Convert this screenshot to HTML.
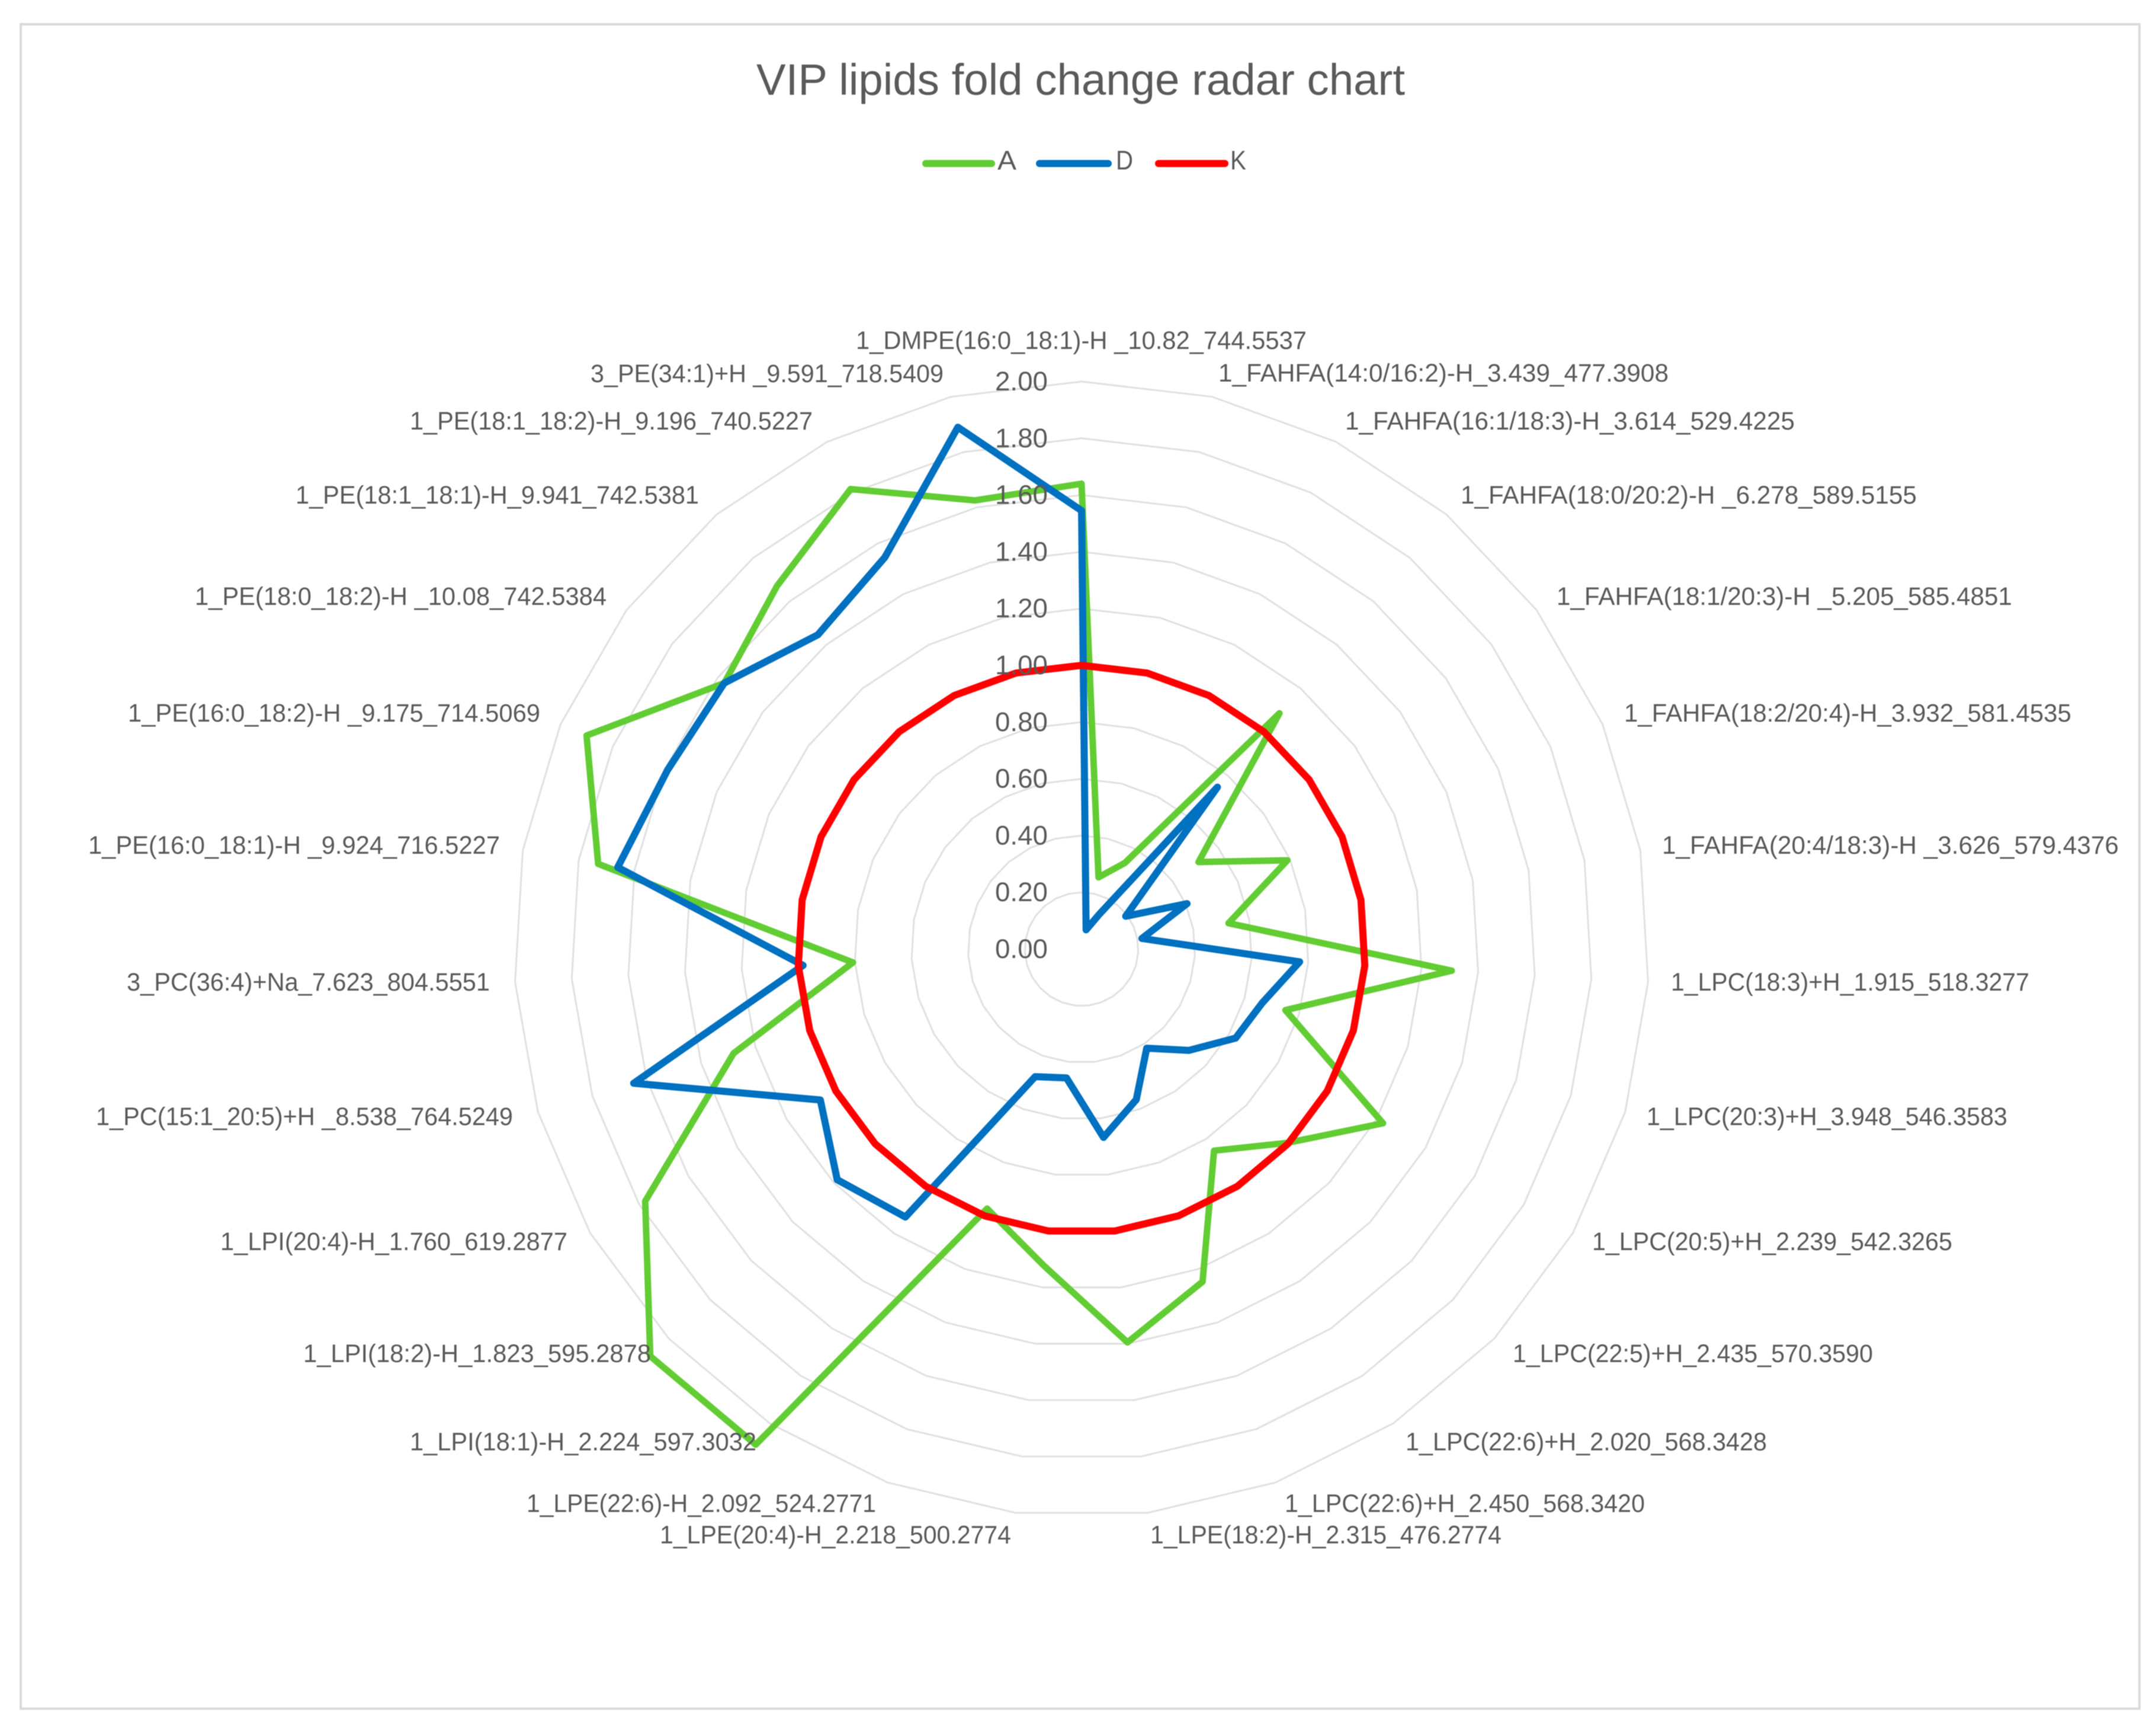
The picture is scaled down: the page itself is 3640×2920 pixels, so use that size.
<!DOCTYPE html>
<html lang="en">
<head>
<meta charset="utf-8">
<title>VIP lipids fold change radar chart</title>
<style>
html,body{margin:0;padding:0;background:#fff;}
body{width:3640px;height:2920px;overflow:hidden;}
svg{display:block;filter:blur(0.9px);}
text{font-family:"Liberation Sans",Arial,sans-serif;fill:#595959;}
</style>
</head>
<body>
<svg id="chart" xmlns="http://www.w3.org/2000/svg" width="3640" height="2920" viewBox="0 0 3640 2920">
  <rect x="0" y="0" width="3640" height="2920" fill="#ffffff"/>
  <rect x="35" y="41" width="3577" height="2843" fill="#ffffff" stroke="#d9d9d9" stroke-width="4"/>
  <text x="1277" y="160" font-size="74" textLength="1095" lengthAdjust="spacingAndGlyphs">VIP lipids fold change radar chart</text>
  <g>
    <line x1="1563" y1="276" x2="1674" y2="276" stroke="#62cc33" stroke-width="12" stroke-linecap="round"/>
    <text x="1684" y="286" font-size="45" textLength="32" lengthAdjust="spacingAndGlyphs">A</text>
    <line x1="1755" y1="276" x2="1871" y2="276" stroke="#0070c0" stroke-width="12" stroke-linecap="round"/>
    <text x="1884" y="286" font-size="45" textLength="29" lengthAdjust="spacingAndGlyphs">D</text>
    <line x1="1956" y1="276" x2="2068" y2="276" stroke="#ff0000" stroke-width="12" stroke-linecap="round"/>
    <text x="2077" y="286" font-size="45" textLength="27" lengthAdjust="spacingAndGlyphs">K</text>
  </g>
  <g id="rings"></g>
  <g id="series"></g>
  <g id="ticks"></g>
  <g id="cats"></g>
</svg>
<script>
var categories = [
  "1_DMPE(16:0_18:1)-H _10.82_744.5537",
  "1_FAHFA(14:0/16:2)-H_3.439_477.3908",
  "1_FAHFA(16:1/18:3)-H_3.614_529.4225",
  "1_FAHFA(18:0/20:2)-H _6.278_589.5155",
  "1_FAHFA(18:1/20:3)-H _5.205_585.4851",
  "1_FAHFA(18:2/20:4)-H_3.932_581.4535",
  "1_FAHFA(20:4/18:3)-H _3.626_579.4376",
  "1_LPC(18:3)+H_1.915_518.3277",
  "1_LPC(20:3)+H_3.948_546.3583",
  "1_LPC(20:5)+H_2.239_542.3265",
  "1_LPC(22:5)+H_2.435_570.3590",
  "1_LPC(22:6)+H_2.020_568.3428",
  "1_LPC(22:6)+H_2.450_568.3420",
  "1_LPE(18:2)-H_2.315_476.2774",
  "1_LPE(20:4)-H_2.218_500.2774",
  "1_LPE(22:6)-H_2.092_524.2771",
  "1_LPI(18:1)-H_2.224_597.3032",
  "1_LPI(18:2)-H_1.823_595.2878",
  "1_LPI(20:4)-H_1.760_619.2877",
  "1_PC(15:1_20:5)+H _8.538_764.5249",
  "3_PC(36:4)+Na_7.623_804.5551",
  "1_PE(16:0_18:1)-H _9.924_716.5227",
  "1_PE(16:0_18:2)-H _9.175_714.5069",
  "1_PE(18:0_18:2)-H _10.08_742.5384",
  "1_PE(18:1_18:1)-H_9.941_742.5381",
  "1_PE(18:1_18:2)-H_9.196_740.5227",
  "3_PE(34:1)+H _9.591_718.5409"
];
var seriesA = [1.64,0.26,0.34,1.085,0.514,0.79,0.526,1.307,0.75,1.227,0.995,0.85,1.247,1.395,1.125,0.973,2.09,2.09,1.776,1.28,0.807,1.73,1.90,1.57,1.67,1.814,1.625];
var seriesD = [1.545,0.07,0.135,0.745,0.194,0.405,0.216,0.77,0.664,0.627,0.52,0.418,0.564,0.668,0.457,0.478,1.13,1.184,1.063,1.648,0.983,1.66,1.59,1.57,1.446,1.545,1.89];
var seriesK = [1,1,1,1,1,1,1,1,1,1,1,1,1,1,1,1,1,1,1,1,1,1,1,1,1,1,1];
var tickLabels = ["0.00","0.20","0.40","0.60","0.80","1.00","1.20","1.40","1.60","1.80","2.00"];
var tickValues = [0,0.2,0.4,0.6,0.8,1,1.2,1.4,1.6,1.8,2];

var NS = "http://www.w3.org/2000/svg";
var CX = 1826, CY = 1602, UNIT = 479;
var N = categories.length;

function radius(v){ return v * UNIT; }
function angle(i){ return i * 2 * Math.PI / N; }
function px(i, v){ return CX + radius(v) * Math.sin(angle(i)); }
function py(i, v){ return CY - radius(v) * Math.cos(angle(i)); }
function pointsFor(values){
  return values.map(function(v, i){ return px(i, v).toFixed(1) + "," + py(i, v).toFixed(1); }).join(" ");
}

var rings = document.getElementById("rings");
tickValues.forEach(function(t){
  if (t === 0) return;
  var ringValues = categories.map(function(){ return t; });
  var ring = document.createElementNS(NS, "polygon");
  
  
  ring.setAttribute("points", pointsFor(ringValues));
  ring.setAttribute("fill", "none");
  ring.setAttribute("stroke", "#e0e0e0");
  ring.setAttribute("stroke-width", "3");
  rings.appendChild(ring);
});

var seriesGroup = document.getElementById("series");
function drawSeries(values, color, width, name){
  var line = document.createElementNS(NS, "polygon");
  
  
  line.setAttribute("points", pointsFor(values));
  line.setAttribute("fill", "none");
  line.setAttribute("stroke", color);
  line.setAttribute("stroke-width", width);
  line.setAttribute("stroke-linejoin", "round");
  seriesGroup.appendChild(line);
}
drawSeries(seriesA, "#62cc33", 11, "series-a-line");
drawSeries(seriesD, "#0070c0", 12, "series-d-line");
drawSeries(seriesK, "#ff0000", 12, "series-k-line");

var ticks = document.getElementById("ticks");
tickLabels.forEach(function(label, i){
  var tick = document.createElementNS(NS, "text");
  
  
  tick.setAttribute("x", 1680);
  tick.setAttribute("y", CY - radius(tickValues[i]) + 15);
  tick.setAttribute("font-size", "45");
  tick.setAttribute("textLength", "89");
  tick.setAttribute("lengthAdjust", "spacingAndGlyphs");
  tick.textContent = label;
  ticks.appendChild(tick);
});

var labelStart = [1445,2057,2271,2466,2628,2742,2806,2821,2780,2688,2554,2373,2169,1942,1114,889,692,512,372,162,214,149,216,329,499,692,997];
var labelEnd   = [2206,2817,3030,3236,3397,3497,3577,3426,3389,3296,3162,2983,2777,2535,1707,1479,1277,1099,958,866,827,844,912,1024,1180,1372,1593];
var labelMid   = [576,631,712,837,1008,1205,1428,1659,1886,2097,2286,2435,2539,2592,2592,2539,2435,2286,2097,1886,1659,1428,1205,1008,837,712,632];

var cats = document.getElementById("cats");
categories.forEach(function(label, i){
  var cat = document.createElementNS(NS, "text");
  
  
  cat.setAttribute("x", labelStart[i]);
  cat.setAttribute("y", labelMid[i] + 13);
  cat.setAttribute("font-size", "43");
  cat.setAttribute("textLength", labelEnd[i] - labelStart[i]);
  cat.setAttribute("lengthAdjust", "spacingAndGlyphs");
  cat.textContent = label;
  cats.appendChild(cat);
});
</script>
</body>
</html>
